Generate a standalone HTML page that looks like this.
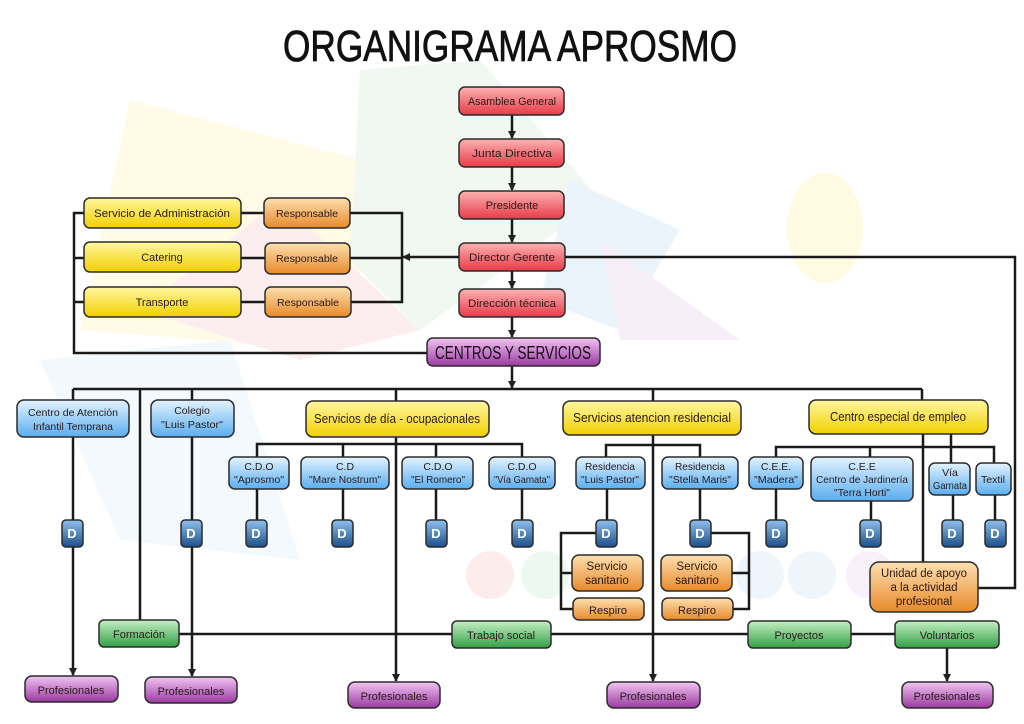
<!DOCTYPE html>
<html><head><meta charset="utf-8"><style>
html,body{margin:0;padding:0;background:#fff;}
svg{display:block;}
text{font-family:"Liberation Sans",sans-serif;fill:#2a1a1a;}
</style></head><body>
<svg width="1024" height="724" viewBox="0 0 1024 724" xmlns="http://www.w3.org/2000/svg">
<defs>
<linearGradient id="r" x1="0" y1="0" x2="0" y2="1"><stop offset="0" stop-color="#fbb3b3"/><stop offset="1" stop-color="#e83a48"/></linearGradient>
<linearGradient id="y" x1="0" y1="0" x2="0" y2="1"><stop offset="0" stop-color="#fff7a0"/><stop offset="1" stop-color="#f2d000"/></linearGradient>
<linearGradient id="o" x1="0" y1="0" x2="0" y2="1"><stop offset="0" stop-color="#fde0b0"/><stop offset="1" stop-color="#e8892a"/></linearGradient>
<linearGradient id="b" x1="0" y1="0" x2="0" y2="1"><stop offset="0" stop-color="#e3f3ff"/><stop offset="1" stop-color="#5aaef0"/></linearGradient>
<linearGradient id="d" x1="0" y1="0" x2="0" y2="1"><stop offset="0" stop-color="#8fc0ee"/><stop offset="1" stop-color="#1d4f8a"/></linearGradient>
<linearGradient id="p" x1="0" y1="0" x2="0" y2="1"><stop offset="0" stop-color="#f1c4f2"/><stop offset="1" stop-color="#9a3aa0"/></linearGradient>
<linearGradient id="g" x1="0" y1="0" x2="0" y2="1"><stop offset="0" stop-color="#c4efc4"/><stop offset="1" stop-color="#32a046"/></linearGradient>
<marker id="a" markerWidth="8" markerHeight="8" refX="7" refY="4" orient="auto" markerUnits="userSpaceOnUse"><path d="M0,0 L8,4 L0,8 z" fill="#222"/></marker>
</defs>
<g opacity="0.3">
<polygon points="130,100 400,170 330,350 80,330" fill="#fff3b0"/>
<polygon points="360,70 480,60 600,200 420,330 350,260" fill="#cfe9d4"/>
<polygon points="140,310 280,200 420,330 300,360" fill="#f7c9c9"/>
<polygon points="570,180 680,230 620,330 540,300" fill="#bfdcf5"/>
<polygon points="600,240 740,340 620,340" fill="#e4cde9"/>
<ellipse cx="825" cy="228" rx="38" ry="55" fill="#fff0a0"/>
<polygon points="40,360 230,340 300,560 120,540" fill="#d7ecfa"/>
<circle cx="490" cy="575" r="24" fill="#f5c0c0"/>
<circle cx="545" cy="575" r="24" fill="#c6ead0"/>
<circle cx="760" cy="575" r="24" fill="#c9dff5"/>
<circle cx="812" cy="575" r="24" fill="#c9dff5"/>
<circle cx="870" cy="575" r="24" fill="#e6d0ef"/>
</g>
<text x="510" y="61" text-anchor="middle" font-size="44" textLength="454" lengthAdjust="spacingAndGlyphs" style="fill:#111;stroke:#111;stroke-width:0.8">ORGANIGRAMA APROSMO</text>

<g stroke="#1a1a1a" stroke-width="2.5" fill="none">
<line x1="512" y1="115" x2="512" y2="138" marker-end="url(#a)"/>
<line x1="512" y1="167" x2="512" y2="190" marker-end="url(#a)"/>
<line x1="512" y1="219" x2="512" y2="242" marker-end="url(#a)"/>
<line x1="512" y1="271" x2="512" y2="288" marker-end="url(#a)"/>
<line x1="512" y1="317" x2="512" y2="337" marker-end="url(#a)"/>
<line x1="512" y1="366" x2="512" y2="388" marker-end="url(#a)"/>
<line x1="459" y1="257" x2="403" y2="257" marker-end="url(#a)"/>
<polyline points="350,213 402,213 402,302 350,302"/>
<line x1="350" y1="258" x2="402" y2="258"/>
<line x1="241" y1="213" x2="264" y2="213"/>
<line x1="241" y1="258" x2="265" y2="258"/>
<line x1="241" y1="302" x2="265" y2="302"/>
<polyline points="84,213 74,213 74,353 427,353"/>
<line x1="74" y1="258" x2="84" y2="258"/>
<line x1="74" y1="302" x2="84" y2="302"/>
<polyline points="565,257 1015,257 1015,588 978,588"/>
<line x1="73" y1="389" x2="922" y2="389"/>
<line x1="73" y1="389" x2="73" y2="675" marker-end="url(#a)"/>
<line x1="140" y1="389" x2="140" y2="620"/>
<line x1="192" y1="389" x2="192" y2="400"/>
<line x1="192" y1="437" x2="192" y2="676" marker-end="url(#a)"/>
<line x1="396" y1="389" x2="396" y2="401"/>
<line x1="396" y1="437" x2="396" y2="681" marker-end="url(#a)"/>
<line x1="653" y1="389" x2="653" y2="401"/>
<line x1="653" y1="435" x2="653" y2="681" marker-end="url(#a)"/>
<line x1="922" y1="389" x2="922" y2="400"/>
<line x1="923" y1="434" x2="923" y2="562"/>
<polyline points="257,457 257,444 522,444 522,457"/>
<line x1="343" y1="444" x2="343" y2="457"/>
<line x1="436" y1="444" x2="436" y2="457"/>
<line x1="257" y1="489" x2="257" y2="520"/>
<line x1="343" y1="489" x2="343" y2="520"/>
<line x1="436" y1="489" x2="436" y2="520"/>
<line x1="522" y1="489" x2="522" y2="520"/>
<polyline points="606,457 606,445 700,445 700,457"/>
<line x1="607" y1="489" x2="607" y2="520"/>
<line x1="700" y1="489" x2="700" y2="520"/>
<polyline points="596,533 561,533 561,609 573,609"/>
<line x1="561" y1="573" x2="572" y2="573"/>
<polyline points="711,533 749,533 749,609 733,609"/>
<line x1="732" y1="573" x2="749" y2="573"/>
<polyline points="776,457 776,447 994,447 994,463"/>
<line x1="870" y1="447" x2="870" y2="457"/>
<line x1="951" y1="434" x2="951" y2="463"/>
<line x1="776" y1="489" x2="776" y2="520"/>
<line x1="871" y1="501" x2="871" y2="520"/>
<line x1="953" y1="495" x2="953" y2="520"/>
<line x1="995" y1="495" x2="995" y2="520"/>
<line x1="179" y1="634" x2="895" y2="634"/>
<line x1="947" y1="648" x2="947" y2="681" marker-end="url(#a)"/>
</g>

<g stroke="#2b2b2b" stroke-width="1.5">
<rect x="459" y="87" width="105" height="28" rx="6" fill="url(#r)"/>
<rect x="459" y="139" width="105" height="28" rx="6" fill="url(#r)"/>
<rect x="459" y="191" width="105" height="28" rx="6" fill="url(#r)"/>
<rect x="459" y="243" width="106" height="28" rx="6" fill="url(#r)"/>
<rect x="459" y="289" width="106" height="28" rx="6" fill="url(#r)"/>
<rect x="427" y="338" width="173" height="28" rx="6" fill="url(#p)"/>
<rect x="84" y="198" width="157" height="30" rx="6" fill="url(#y)"/>
<rect x="84" y="242" width="157" height="30" rx="6" fill="url(#y)"/>
<rect x="84" y="287" width="157" height="30" rx="6" fill="url(#y)"/>
<rect x="264" y="198" width="86" height="30" rx="6" fill="url(#o)"/>
<rect x="265" y="243" width="85" height="31" rx="6" fill="url(#o)"/>
<rect x="265" y="287" width="86" height="30" rx="6" fill="url(#o)"/>
<rect x="17" y="400" width="112" height="37" rx="7" fill="url(#b)"/>
<rect x="151" y="400" width="83" height="37" rx="7" fill="url(#b)"/>
<rect x="306" y="401" width="183" height="36" rx="7" fill="url(#y)"/>
<rect x="563" y="401" width="178" height="34" rx="7" fill="url(#y)"/>
<rect x="809" y="400" width="179" height="34" rx="7" fill="url(#y)"/>
<rect x="229" y="457" width="60" height="32" rx="6" fill="url(#b)"/>
<rect x="301" y="457" width="88" height="32" rx="6" fill="url(#b)"/>
<rect x="402" y="457" width="71" height="32" rx="6" fill="url(#b)"/>
<rect x="489" y="457" width="66" height="32" rx="6" fill="url(#b)"/>
<rect x="576" y="457" width="69" height="32" rx="6" fill="url(#b)"/>
<rect x="662" y="457" width="76" height="32" rx="6" fill="url(#b)"/>
<rect x="749" y="457" width="54" height="32" rx="6" fill="url(#b)"/>
<rect x="811" y="457" width="102" height="44" rx="6" fill="url(#b)"/>
<rect x="929" y="463" width="41" height="32" rx="6" fill="url(#b)"/>
<rect x="976" y="463" width="35" height="32" rx="6" fill="url(#b)"/>
<g fill="url(#d)">
<rect x="62" y="520" width="21" height="27" rx="4"/><rect x="181" y="520" width="21" height="27" rx="4"/>
<rect x="246" y="520" width="21" height="27" rx="4"/><rect x="332" y="520" width="21" height="27" rx="4"/>
<rect x="426" y="520" width="21" height="27" rx="4"/><rect x="512" y="520" width="21" height="27" rx="4"/>
<rect x="596" y="520" width="21" height="27" rx="4"/><rect x="690" y="520" width="21" height="27" rx="4"/>
<rect x="766" y="520" width="21" height="27" rx="4"/><rect x="860" y="520" width="21" height="27" rx="4"/>
<rect x="942" y="520" width="21" height="27" rx="4"/><rect x="985" y="520" width="21" height="27" rx="4"/>
</g>
<rect x="572" y="555" width="71" height="36" rx="7" fill="url(#o)"/>
<rect x="573" y="598" width="71" height="22" rx="6" fill="url(#o)"/>
<rect x="661" y="555" width="71" height="36" rx="7" fill="url(#o)"/>
<rect x="662" y="598" width="71" height="22" rx="6" fill="url(#o)"/>
<rect x="870" y="562" width="108" height="50" rx="9" fill="url(#o)"/>
<rect x="99" y="620" width="80" height="27" rx="5" fill="url(#g)"/>
<rect x="452" y="621" width="99" height="27" rx="5" fill="url(#g)"/>
<rect x="748" y="621" width="103" height="27" rx="5" fill="url(#g)"/>
<rect x="895" y="621" width="104" height="27" rx="5" fill="url(#g)"/>
<rect x="25" y="676" width="93" height="26" rx="7" fill="url(#p)"/>
<rect x="145" y="677" width="92" height="26" rx="7" fill="url(#p)"/>
<rect x="348" y="682" width="92" height="26" rx="7" fill="url(#p)"/>
<rect x="607" y="682" width="93" height="26" rx="7" fill="url(#p)"/>
<rect x="902" y="682" width="91" height="26" rx="7" fill="url(#p)"/>
</g>

<g font-size="11" text-anchor="middle" lengthAdjust="spacingAndGlyphs">
<text x="512" y="105" textLength="88" lengthAdjust="spacingAndGlyphs">Asamblea General</text>
<text x="512" y="157" textLength="80" lengthAdjust="spacingAndGlyphs">Junta Directiva</text>
<text x="512" y="209">Presidente</text>
<text x="512" y="261" textLength="86" lengthAdjust="spacingAndGlyphs">Director Gerente</text>
<text x="512" y="307" textLength="88" lengthAdjust="spacingAndGlyphs">Dirección técnica</text>
<text x="513" y="359" font-size="18" textLength="156" lengthAdjust="spacingAndGlyphs" style="fill:#1a0a1a">CENTROS Y SERVICIOS</text>
<text x="162" y="217" textLength="136" lengthAdjust="spacingAndGlyphs">Servicio de Administración</text>
<text x="162" y="261">Catering</text>
<text x="162" y="306">Transporte</text>
<text x="307" y="217" font-size="10" textLength="62" lengthAdjust="spacingAndGlyphs">Responsable</text>
<text x="307" y="262" font-size="10" textLength="62" lengthAdjust="spacingAndGlyphs">Responsable</text>
<text x="308" y="306" font-size="10" textLength="62" lengthAdjust="spacingAndGlyphs">Responsable</text>
<text x="73" y="416" font-size="10.5" textLength="90" lengthAdjust="spacingAndGlyphs">Centro de Atención</text>
<text x="73" y="430" font-size="10.5" textLength="80" lengthAdjust="spacingAndGlyphs">Infantil Temprana</text>
<text x="192" y="414" font-size="10.5">Colegio</text>
<text x="192" y="428" font-size="10.5" textLength="62" lengthAdjust="spacingAndGlyphs">"Luis Pastor"</text>
<text x="397" y="423" font-size="12.5" textLength="166" lengthAdjust="spacingAndGlyphs">Servicios de día - ocupacionales</text>
<text x="652" y="422" font-size="12.5" textLength="158" lengthAdjust="spacingAndGlyphs">Servicios atencion residencial</text>
<text x="898" y="421" font-size="12.5" textLength="136" lengthAdjust="spacingAndGlyphs">Centro especial de empleo</text>
<g font-size="10.5">
<text x="259" y="470">C.D.O</text><text x="259" y="483" textLength="50" lengthAdjust="spacingAndGlyphs">"Aprosmo"</text>
<text x="345" y="470">C.D</text><text x="345" y="483" textLength="72" lengthAdjust="spacingAndGlyphs">"Mare Nostrum"</text>
<text x="438" y="470">C.D.O</text><text x="438" y="483" textLength="54" lengthAdjust="spacingAndGlyphs">"El Romero"</text>
<text x="522" y="470">C.D.O</text><text x="522" y="483" textLength="56" lengthAdjust="spacingAndGlyphs">"Vía Garnata"</text>
<text x="610" y="470" textLength="50" lengthAdjust="spacingAndGlyphs">Residencia</text><text x="610" y="483" textLength="58" lengthAdjust="spacingAndGlyphs">"Luis Pastor"</text>
<text x="700" y="470" textLength="50" lengthAdjust="spacingAndGlyphs">Residencia</text><text x="700" y="483" textLength="62" lengthAdjust="spacingAndGlyphs">"Stella Maris"</text>
<text x="776" y="470">C.E.E.</text><text x="776" y="483" textLength="44" lengthAdjust="spacingAndGlyphs">"Madera"</text>
<text x="862" y="470">C.E.E</text><text x="862" y="483" textLength="92" lengthAdjust="spacingAndGlyphs">Centro de Jardinería</text><text x="862" y="496" textLength="56" lengthAdjust="spacingAndGlyphs">"Terra Horti"</text>
<text x="950" y="476">Vía</text><text x="950" y="489" textLength="34" lengthAdjust="spacingAndGlyphs">Garnata</text>
<text x="993" y="483">Textil</text>
</g>
<g font-size="13" font-weight="bold">
<text x="72" y="538" style="fill:#fff">D</text><text x="191" y="538" style="fill:#fff">D</text>
<text x="256" y="538" style="fill:#fff">D</text><text x="342" y="538" style="fill:#fff">D</text>
<text x="436" y="538" style="fill:#fff">D</text><text x="522" y="538" style="fill:#fff">D</text>
<text x="606" y="538" style="fill:#fff">D</text><text x="700" y="538" style="fill:#fff">D</text>
<text x="776" y="538" style="fill:#fff">D</text><text x="870" y="538" style="fill:#fff">D</text>
<text x="952" y="538" style="fill:#fff">D</text><text x="995" y="538" style="fill:#fff">D</text>
</g>
<text x="607" y="570" font-size="11.5">Servicio</text><text x="607" y="584" font-size="11.5">sanitario</text>
<text x="608" y="614">Respiro</text>
<text x="697" y="570" font-size="11.5">Servicio</text><text x="697" y="584" font-size="11.5">sanitario</text>
<text x="697" y="614">Respiro</text>
<text x="924" y="577" font-size="11.5" textLength="86" lengthAdjust="spacingAndGlyphs">Unidad de apoyo</text>
<text x="924" y="591" font-size="11.5">a la actividad</text>
<text x="924" y="605" font-size="11.5">profesional</text>
<text x="139" y="638">Formación</text>
<text x="501" y="639">Trabajo social</text>
<text x="799" y="639">Proyectos</text>
<text x="947" y="639">Voluntarios</text>
<text x="71" y="694">Profesionales</text>
<text x="191" y="695">Profesionales</text>
<text x="394" y="700">Profesionales</text>
<text x="653" y="700">Profesionales</text>
<text x="947" y="700">Profesionales</text>
</g>
</svg>
</body></html>
